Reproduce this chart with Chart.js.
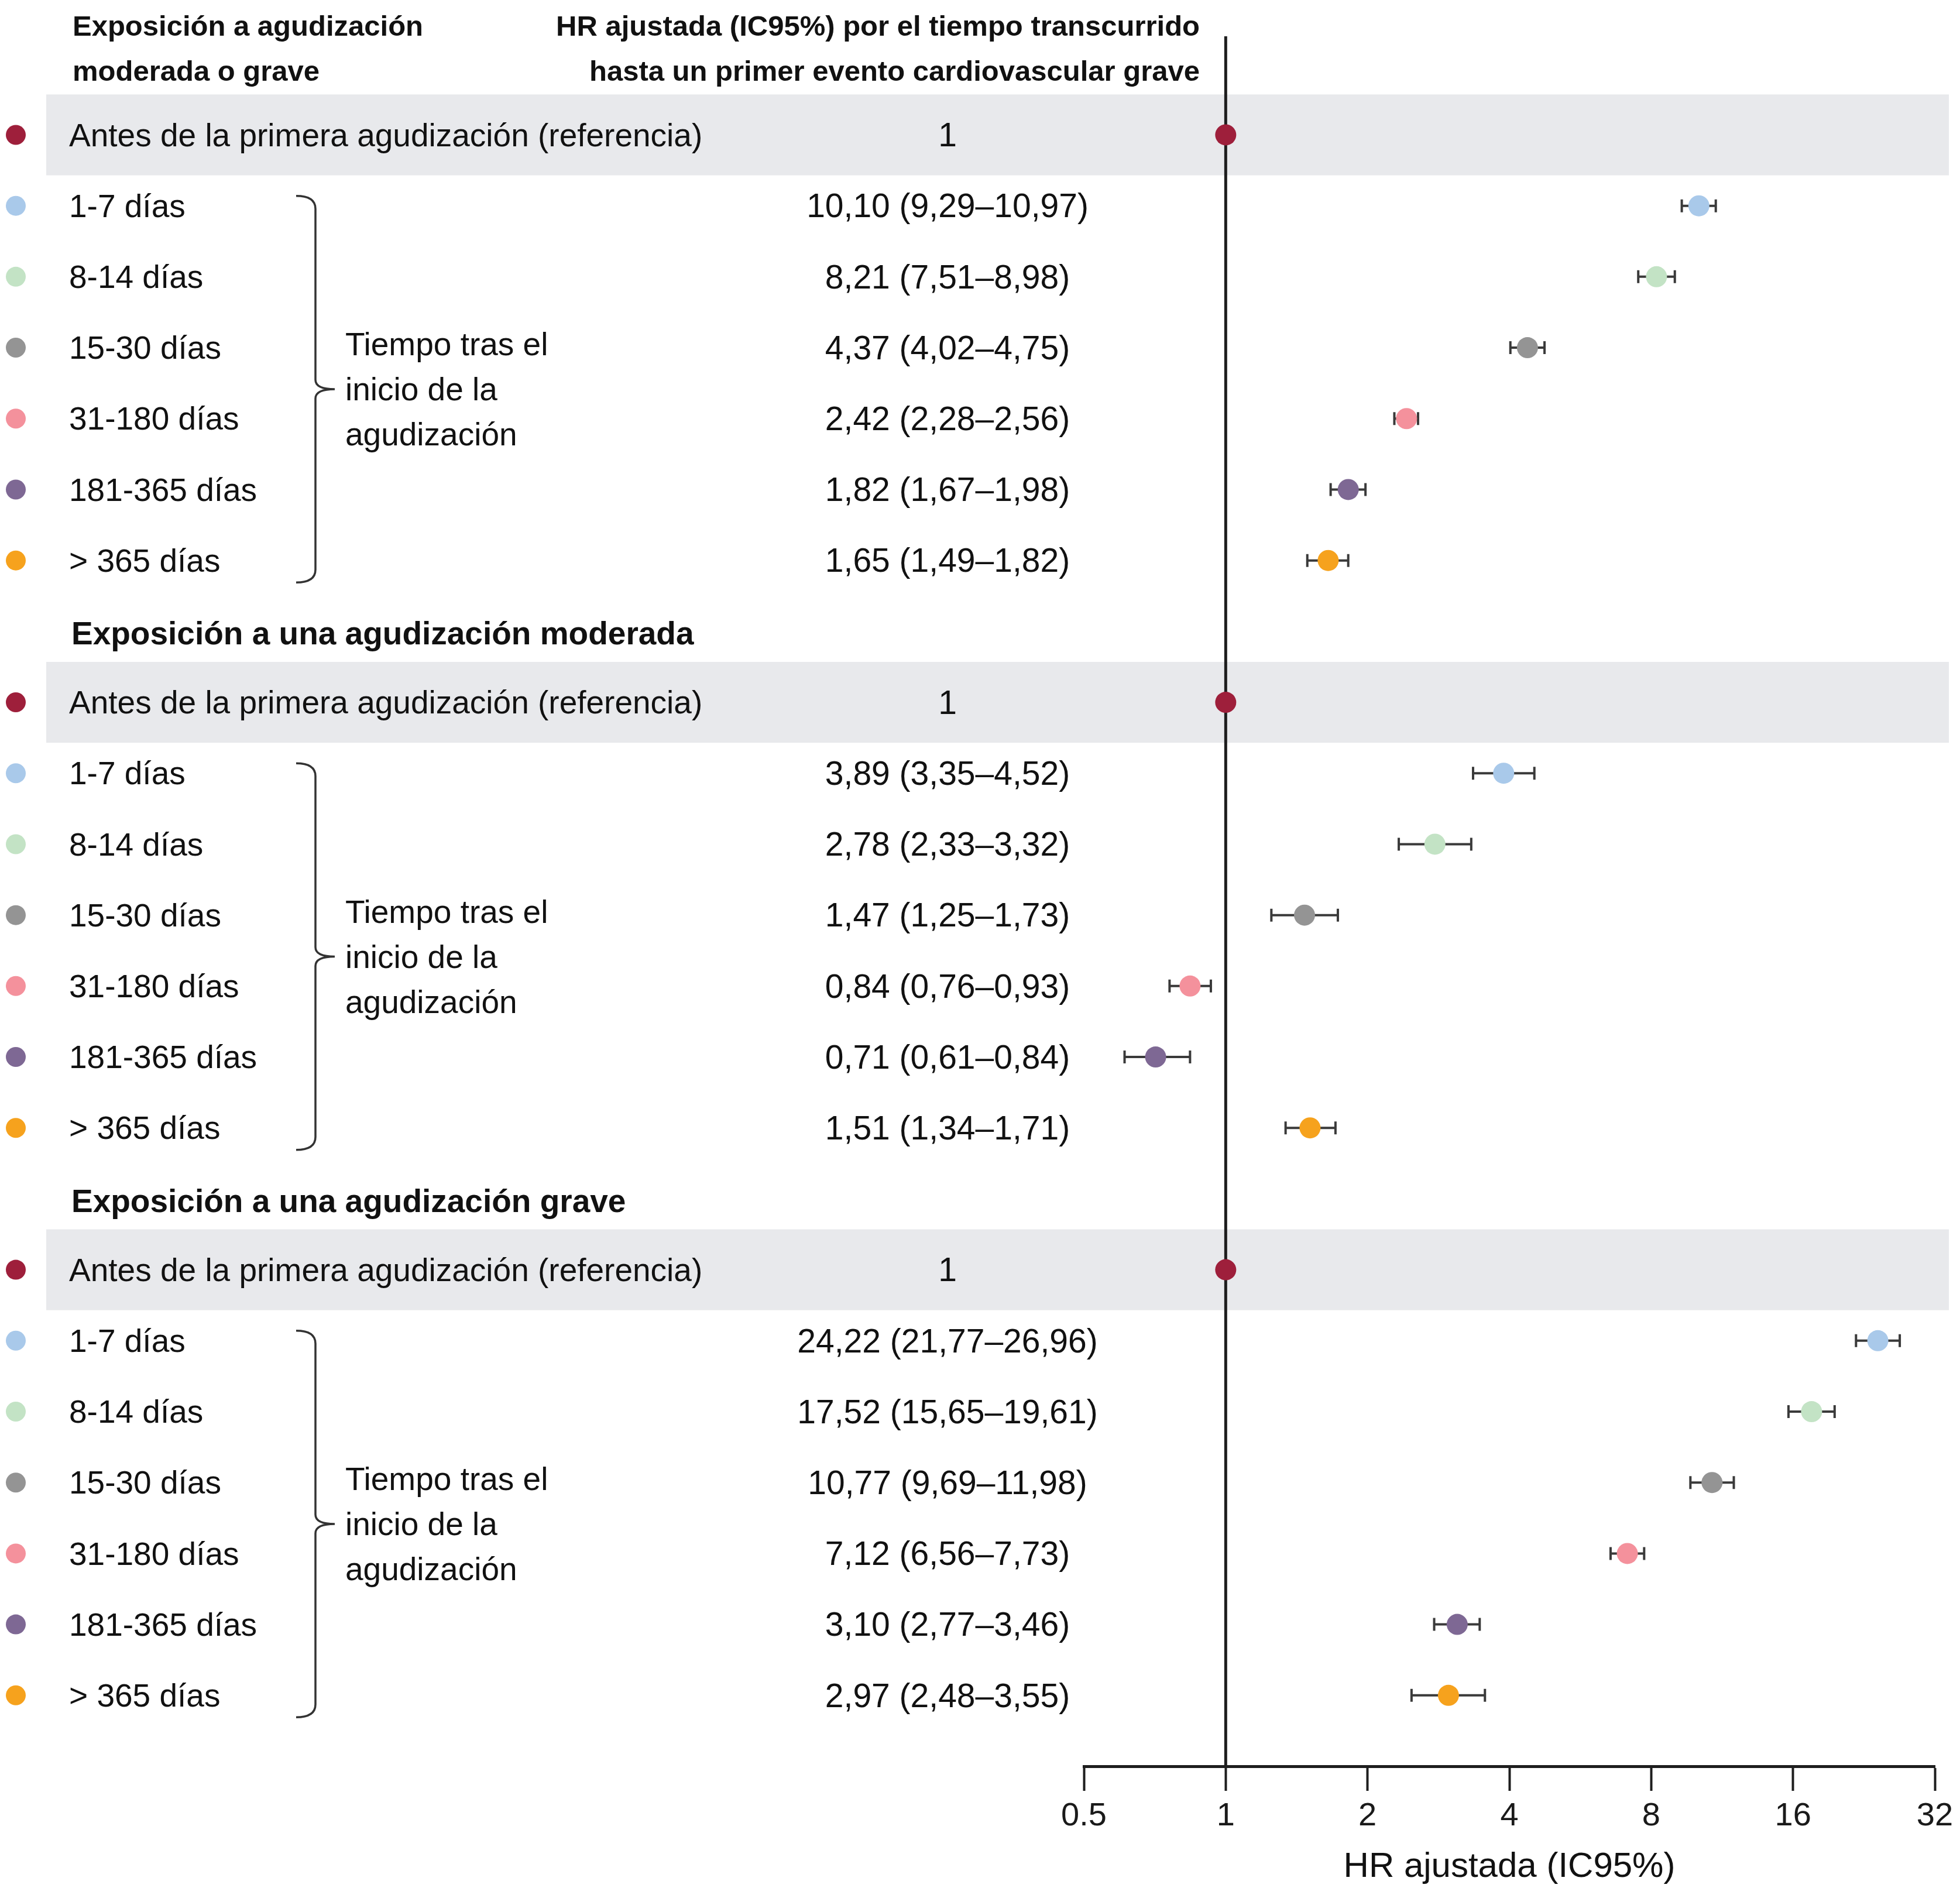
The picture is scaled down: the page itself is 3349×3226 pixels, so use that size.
<!DOCTYPE html>
<html>
<head>
<meta charset="utf-8">
<script src="https://cdn.jsdelivr.net/npm/chart.js@4.4.1/dist/chart.umd.min.js"></script>
<style>
  html, body { margin: 0; padding: 0; background: #fff; }
  canvas { display: block; }
</style>
</head>
<body>
<canvas id="forest" width="3349" height="3226"></canvas>
<script>
// rows of each block (first row is the reference)
const categories = ['Antes de la primera agudización (referencia)', '1-7 días', '8-14 días', '15-30 días', '31-180 días', '181-365 días', '> 365 días'];
const sectionTitles = ['Exposición a una agudización moderada', 'Exposición a una agudización grave'];
const topLeftTitle = ['Exposición a agudización', 'moderada o grave'];
const topRightTitle = ['HR ajustada (IC95%) por el tiempo transcurrido', 'hasta un primer evento cardiovascular grave'];
const groupLabel = ['Tiempo tras el', 'inicio de la', 'agudización'];

// HR and 95% CI, moderate or severe exacerbation
const hrAll = [1, 10.10, 8.21, 4.37, 2.42, 1.82, 1.65];
const loAll = [null, 9.29, 7.51, 4.02, 2.28, 1.67, 1.49];
const hiAll = [null, 10.97, 8.98, 4.75, 2.56, 1.98, 1.82];
// moderate exacerbation
const hrMod = [1, 3.89, 2.78, 1.47, 0.84, 0.71, 1.51];
const loMod = [null, 3.35, 2.33, 1.25, 0.76, 0.61, 1.34];
const hiMod = [null, 4.52, 3.32, 1.73, 0.93, 0.84, 1.71];
// severe exacerbation
const hrSev = [1, 24.22, 17.52, 10.77, 7.12, 3.10, 2.97];
const loSev = [null, 21.77, 15.65, 9.69, 6.56, 2.77, 2.48];
const hiSev = [null, 26.96, 19.61, 11.98, 7.73, 3.46, 3.55];

const xTicks = [0.5, 1, 2, 4, 8, 16, 32];
const rowColors = ['#9e1f3b', '#a9c9ea', '#c3e3c5', '#949494', '#f4919c', '#7e6894', '#f6a21d'];

const sections = [
  { start: 0, hr: hrAll, lo: loAll, hi: hiAll },
  { start: 8, hr: hrMod, lo: loMod, hi: hiMod },
  { start: 16, hr: hrSev, lo: loSev, hi: hiSev }
];

const fmt = v => v.toFixed(2).replace('.', ',');
const FONT = '"Liberation Sans", Arial, Helvetica, sans-serif';

const points = [];
const colors = [];
sections.forEach(s => {
  s.hr.forEach((v, i) => {
    points.push({ x: v, y: s.start + i });
    colors.push(rowColors[i]);
  });
});

const forestPlugin = {
  id: 'forest',
  beforeDatasetsDraw(chart) {
    const { ctx, chartArea, scales: { x, y } } = chart;
    ctx.save();
    // grey band behind the reference rows
    ctx.fillStyle = '#e8e9ec';
    sections.forEach(s => {
      const t = y.getPixelForValue(s.start - 0.57);
      const b = y.getPixelForValue(s.start + 0.57);
      ctx.fillRect(79, t, 3330 - 79, b - t);
    });
    // line of no effect
    const x1 = x.getPixelForValue(1);
    ctx.strokeStyle = '#1e1e1e';
    ctx.lineWidth = 5;
    ctx.beginPath();
    ctx.moveTo(x1, chartArea.top);
    ctx.lineTo(x1, chartArea.bottom);
    ctx.stroke();
    // confidence intervals
    ctx.strokeStyle = '#3a3a3a';
    ctx.lineWidth = 4;
    sections.forEach(s => {
      s.lo.forEach((lo, i) => {
        if (lo == null) return;
        const py = y.getPixelForValue(s.start + i);
        const a = x.getPixelForValue(lo), b = x.getPixelForValue(s.hi[i]);
        ctx.beginPath();
        ctx.moveTo(a, py); ctx.lineTo(b, py);
        ctx.moveTo(a, py - 11); ctx.lineTo(a, py + 11);
        ctx.moveTo(b, py - 11); ctx.lineTo(b, py + 11);
        ctx.stroke();
      });
    });
    ctx.restore();
  },
  afterDatasetsDraw(chart) {
    const { ctx, scales: { y } } = chart;
    const dy = 4; // text sits a touch below the marker centre
    ctx.save();
    ctx.fillStyle = '#111';
    ctx.textBaseline = 'middle';

    // column headers
    ctx.font = 'bold 49px ' + FONT;
    ctx.textAlign = 'left';
    ctx.fillText(topLeftTitle[0], 124, 47);
    ctx.fillText(topLeftTitle[1], 124, 124);
    ctx.textAlign = 'right';
    ctx.fillText(topRightTitle[0], 2050, 47);
    ctx.fillText(topRightTitle[1], 2050, 124);

    ctx.font = 'bold 55px ' + FONT;
    ctx.textAlign = 'left';
    sectionTitles.forEach((t, k) => {
      ctx.fillText(t, 122, y.getPixelForValue(sections[k + 1].start - 1) + 7);
    });

    sections.forEach(s => {
      categories.forEach((c, i) => {
        const py = y.getPixelForValue(s.start + i);
        // coloured marker
        ctx.fillStyle = rowColors[i];
        ctx.beginPath();
        ctx.arc(27, py, 17, 0, Math.PI * 2);
        ctx.fill();
        ctx.fillStyle = '#111';
        ctx.font = '55px ' + FONT;
        ctx.textAlign = 'left';
        ctx.fillText(c, 118, py + dy);
        // HR (CI)
        ctx.textAlign = 'center';
        ctx.font = '57px ' + FONT;
        const txt = s.lo[i] == null ? '1' : fmt(s.hr[i]) + ' (' + fmt(s.lo[i]) + '–' + fmt(s.hi[i]) + ')';
        ctx.fillText(txt, 1619, py + dy);
      });
      // brace for the time rows
      const top = y.getPixelForValue(s.start + 1 - 0.14);
      const bot = y.getPixelForValue(s.start + 6 + 0.31);
      const mid = (top + bot) / 2;
      ctx.strokeStyle = '#333';
      ctx.lineWidth = 3.5;
      ctx.beginPath();
      ctx.moveTo(506, top);
      ctx.quadraticCurveTo(539, top, 539, top + 22);
      ctx.lineTo(539, mid - 16);
      ctx.quadraticCurveTo(539, mid, 572, mid);
      ctx.quadraticCurveTo(539, mid, 539, mid + 16);
      ctx.lineTo(539, bot - 22);
      ctx.quadraticCurveTo(539, bot, 506, bot);
      ctx.stroke();
      ctx.font = '55px ' + FONT;
      ctx.textAlign = 'left';
      groupLabel.forEach((g, k) => ctx.fillText(g, 590, mid + dy + (k - 1) * 77));
    });
    ctx.restore();
  }
};

new Chart(document.getElementById('forest'), {
  type: 'scatter',
  data: {
    datasets: [{
      data: points,
      pointBackgroundColor: colors,
      pointBorderWidth: 0,
      pointRadius: 18,
      pointHoverRadius: 18
    }]
  },
  options: {
    responsive: false,
    animation: false,
    devicePixelRatio: 1,
    layout: { padding: { left: 1852, right: 43, top: 62, bottom: 0 } },
    plugins: { legend: { display: false }, tooltip: { enabled: false } },
    scales: {
      x: {
        type: 'logarithmic',
        position: 'bottom',
        min: 0.5,
        max: 32,
        afterBuildTicks: scale => { scale.ticks = xTicks.map(v => ({ value: v })); },
        afterFit: scale => { scale.height = 208; },
        ticks: {
          callback: v => String(v),
          font: { size: 56, family: FONT },
          color: '#1a1a1a',
          padding: 10,
          maxRotation: 0,
          autoSkip: false
        },
        grid: { drawOnChartArea: false, drawTicks: true, tickLength: 42, tickWidth: 4, tickColor: '#1e1e1e' },
        border: { display: true, color: '#1e1e1e', width: 5 },
        title: {
          display: true,
          text: 'HR ajustada (IC95%)',
          font: { size: 60, family: FONT },
          color: '#111',
          padding: { top: 0, bottom: 0 }
        }
      },
      y: {
        type: 'linear',
        reverse: true,
        min: -1.39,
        max: 23.0,
        display: false
      }
    }
  },
  plugins: [forestPlugin]
});
</script>
</body>
</html>
